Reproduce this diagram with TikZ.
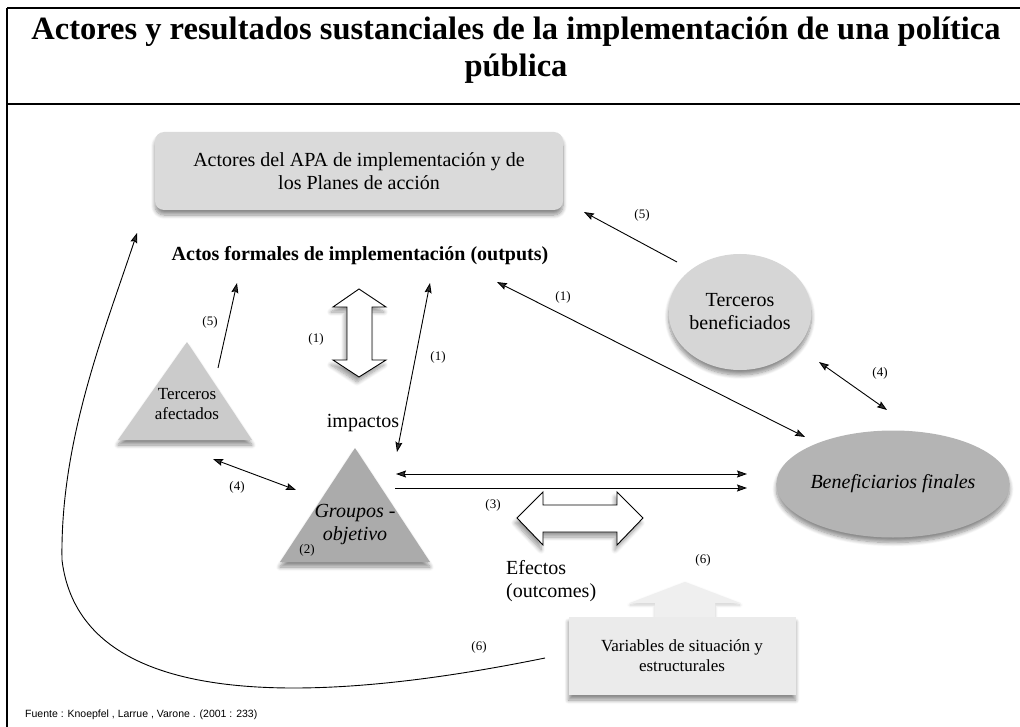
\documentclass[tikz,border=0pt]{standalone}
\usepackage{fontspec}
\setmainfont{Liberation Serif}
\setsansfont{Liberation Sans}
\usetikzlibrary{arrows.meta,shapes.geometric,shadows,shadows.blur}
\definecolor{apagray}{HTML}{DADADA}
\definecolor{afegray}{HTML}{CBCBCB}
\definecolor{grpgray}{HTML}{ABABAB}
\definecolor{bengray}{HTML}{D6D6D6}
\definecolor{fingray}{HTML}{B4B4B4}
\definecolor{vargray}{HTML}{EBEBEB}
\definecolor{upgray}{HTML}{EFEFEF}
\tikzset{
  txt/.style={font=\fontsize{20}{23}\selectfont, align=center, inner sep=0pt},
  lbl/.style={font=\fontsize{13}{15}\selectfont, inner sep=0pt},
  arr/.style={-{Stealth[length=10pt,width=7pt,inset=1.5pt]}, line width=0.9pt},
  darr/.style={{Stealth[length=10pt,width=7pt,inset=1.5pt]}-{Stealth[length=10pt,width=7pt,inset=1.5pt]}, line width=0.9pt},
  shad/.style={blur shadow={shadow xshift=0pt,shadow yshift=-5pt,shadow blur radius=4pt,shadow blur steps=8,shadow opacity=45}},
  hollow/.style={draw=black, line width=0.9pt, fill=white, blur shadow={shadow xshift=-2pt,shadow yshift=-5pt,shadow blur radius=4pt,shadow blur steps=8,shadow opacity=40}},
  frame/.style={line width=1.4pt}
}
\begin{document}
\begin{tikzpicture}[x=1pt,y=-1pt]
\useasboundingbox (0,0) rectangle (1020,727);
% frame
\draw[frame] (7,8) -- (1020,8);
\draw[frame] (7,104) -- (1020,104);
\draw[frame] (7,8) -- (7,727);
% title
\node[font=\bfseries\fontsize{32.5}{37}\selectfont, align=center] (title) at (516,50)
  {Actores y resultados sustanciales de la implementación de una política\\pública};

% APA box
\node[txt, fill=apagray, rounded corners=9pt, minimum width=408pt, minimum height=78pt, shad] (apa) at (359,171)
  {Actores del APA de implementación y de\\los Planes de acción};
\node[txt, font=\bfseries\fontsize{20}{23}\selectfont] (out) at (360,256) {Actos formales de implementación (outputs)};

% Terceros afectados triangle
\fill[afegray, shad] (187,342) -- (252,440) -- (118,440) -- cycle;
\node[txt, font=\fontsize{17}{20}\selectfont] (tafe) at (187,404) {Terceros\\afectados};

% Groupos objetivo triangle
\fill[grpgray, shad] (355,448) -- (430,562) -- (280,562) -- cycle;
\node[txt, font=\itshape\fontsize{20}{23}\selectfont] (grp) at (355,525) {Groupos -\\objetivo};
\node[lbl] (l2) at (307,550) {(2)};

\node[txt] (imp) at (363,423) {impactos};

% Terceros beneficiados
\node[txt, ellipse, fill=bengray, minimum width=136pt, minimum height=116pt, shad] (tben) at (740,312) {Terceros\\beneficiados};

% Beneficiarios finales
\node[txt, ellipse, fill=fingray, minimum width=233pt, minimum height=107pt, shad] (bfin) at (893,484) {\itshape Beneficiarios finales};

% Variables box with faint up arrow
\fill[upgray, blur shadow={shadow xshift=0pt,shadow yshift=-2pt,shadow blur radius=3pt,shadow opacity=20}]
  (685,582) -- (740,603) -- (715,603) -- (715,618) -- (655,618) -- (655,603) -- (630,603) -- cycle;
\node[txt, font=\fontsize{17}{20}\selectfont, fill=vargray, minimum width=227pt, minimum height=78pt, shad] (var) at (682,656)
  {Variables de situación y\\estructurales};

\node[txt, anchor=west, align=left] (efe) at (506,581) {Efectos\\(outcomes)};

% hollow double arrows
\path[hollow] (359,289) -- (386,307) -- (372,307) -- (372,360) -- (386,360) -- (359,377)
  -- (333,360) -- (347,360) -- (347,307) -- (333,307) -- cycle;
\path[hollow] (517,518) -- (543,492) -- (543,505) -- (617,505) -- (617,492) -- (643,518)
  -- (617,545) -- (617,532) -- (543,532) -- (543,545) -- cycle;

% connector end points
\coordinate (tafeTop) at (218,368);
\coordinate (outA) at (237,283);
\coordinate (outB) at (430,283);
\coordinate (grpTop) at (397,452);
\coordinate (outC) at (497,282);
\coordinate (bfinNW) at (805,437);
\coordinate (tbenNW) at (677,262);
\coordinate (apaSE) at (584,212);
\coordinate (tbenSE) at (819,362);
\coordinate (bfinN) at (887,410);
\coordinate (tafeSE) at (213,459);
\coordinate (grpW) at (296,490);
\coordinate (grpE1) at (396,474);
\coordinate (bfinW1) at (747,474);
\coordinate (grpE2) at (395,488);
\coordinate (bfinW2) at (747,488);
\coordinate (varW) at (545,658);
\coordinate (apaSW) at (137,233);

\draw[arr] (tafeTop) -- (outA);
\draw[darr] (outB) -- (grpTop);
\draw[darr] (outC) -- (bfinNW);
\draw[arr] (tbenNW) -- (apaSE);
\draw[darr] (tbenSE) -- (bfinN);
\draw[darr] (tafeSE) -- (grpW);
\draw[darr] (grpE1) -- (bfinW1);
\draw[arr] (grpE2) -- (bfinW2);
\draw[arr] (varW) .. controls (300,708) and (80,708) .. (62,560)
  .. controls (60,440) and (105,330) .. (apaSW);

% labels
\node[lbl] (l1a) at (316,339) {(1)};
\node[lbl] (l1b) at (438,357) {(1)};
\node[lbl] (l1c) at (563,297) {(1)};
\node[lbl] (l5a) at (210,322) {(5)};
\node[lbl] (l5b) at (642,215) {(5)};
\node[lbl] (l4a) at (880,373) {(4)};
\node[lbl] (l4b) at (237,487) {(4)};
\node[lbl] (l3) at (493,505) {(3)};
\node[lbl] (l6a) at (703,560) {(6)};
\node[lbl] (l6b) at (479,647) {(6)};

% source
\node[anchor=west, font=\sffamily\fontsize{10.5}{12}\selectfont, inner sep=0pt] (src) at (25,715)
  {Fuente : Knoepfel , Larrue , Varone . (2001 : 233)};
\end{tikzpicture}
\end{document}
